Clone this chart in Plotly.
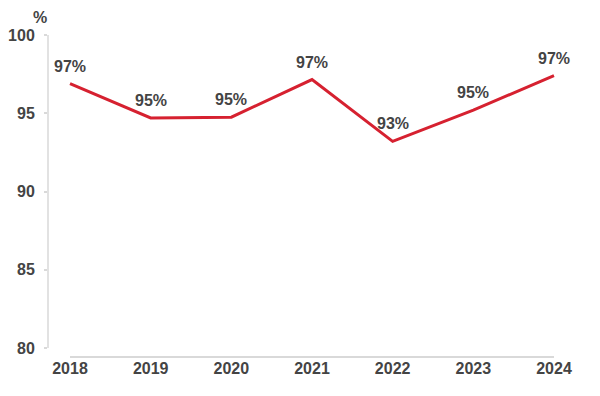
import plotly.graph_objects as go

years = ["2018", "2019", "2020", "2021", "2022", "2023", "2024"]
values = [96.9, 94.7, 94.75, 97.15, 93.2, 95.2, 97.4]
labels = ["97%", "95%", "95%", "97%", "93%", "95%", "97%"]
y_ticks = [80, 85, 90, 95, 100]

TXT = "#444444"
AX = "#d9d9d9"
RED = "#d62130"
FONT = "Liberation Sans"

# page body has an 8px default margin; figure sized to fit inside it
W, H = 584, 380
L, R, T, B = 40, 16, 27, 31
PW, PH = W - L - R, H - T - B

fig = go.Figure()
fig.add_trace(go.Scatter(
    x=list(range(len(years))), y=values, mode="lines",
    line=dict(color=RED, width=3), hoverinfo="skip", showlegend=False,
))

for i, (v, t) in enumerate(zip(values, labels)):
    fig.add_annotation(x=i, y=v, text="<b>%s</b>" % t, showarrow=False,
                       yanchor="bottom", xanchor="center", yshift=7,
                       font=dict(size=16, color=TXT, family=FONT))

fig.add_annotation(xref="paper", yref="paper",
                   x=(32 - L) / PW, y=1 + (T - 9) / PH,
                   xanchor="center", yanchor="middle", borderpad=0,
                   text="<b>%</b>", showarrow=False,
                   font=dict(size=16, color=TXT, family=FONT))

# axis lines
fig.add_shape(type="line", xref="paper", yref="y", x0=0, x1=0, y0=80, y1=100,
              line=dict(color=AX, width=1.5))
fig.add_shape(type="line", xref="x", yref="paper", x0=0, x1=len(years) - 1, y0=0, y1=0,
              line=dict(color=AX, width=2))

fig.update_layout(
    width=W, height=H,
    margin=dict(l=L, r=R, t=T, b=B, autoexpand=False),
    plot_bgcolor="white", paper_bgcolor="white",
    font=dict(family=FONT, color=TXT, size=16),
)

fig.update_xaxes(
    range=[-0.273, len(years) - 1 + 0.273],
    tickmode="array", tickvals=list(range(len(years))),
    ticktext=["<b>%s</b>" % y for y in years],
    showgrid=False, zeroline=False, showline=False, ticks="",
    automargin=False,
    tickfont=dict(size=16, color=TXT, family=FONT),
)
fig.update_yaxes(
    range=[80 - 9 / 15.65, 100],
    tickmode="array", tickvals=y_ticks,
    ticktext=["<b>%d</b>" % v for v in y_ticks],
    showgrid=False, zeroline=False, showline=False,
    ticks="outside", ticklen=3, tickcolor=AX, tickwidth=1.5,
    ticklabelstandoff=6, automargin=False,
    tickfont=dict(size=16, color=TXT, family=FONT),
)

fig.write_html("out.html")
